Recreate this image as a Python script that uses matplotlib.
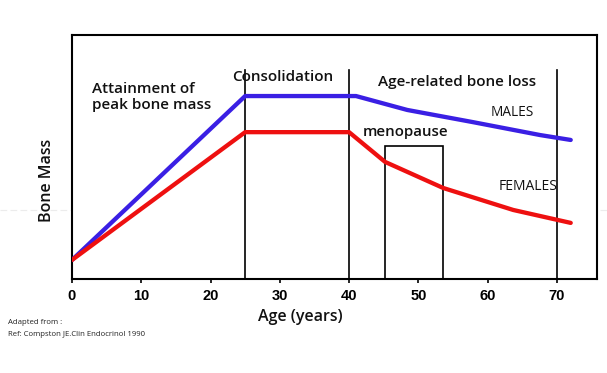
import matplotlib
matplotlib.use("Agg")
import matplotlib.pyplot as plt
from matplotlib.lines import Line2D
from matplotlib.patches import Rectangle

# age (years) / bone mass (arbitrary units, 0-100)
male_age = [0, 25, 41, 48.4, 57.9, 67.6, 72]
male_mass = [7.8, 75, 75, 69.3, 64.3, 59, 57]
female_age = [0, 25, 40, 45.2, 53.6, 63.7, 72]
female_mass = [7.8, 60.2, 60.2, 48, 37.3, 28.3, 23]

phase_lines = [25, 40, 70]
phase_top = 85.7
menopause = (45.2, 53.6, 54.5)   # start, end, height
xticks = [0, 10, 20, 30, 40, 50, 60, 70]

fig = plt.figure(figsize=(6.07, 3.73), dpi=100)
ax = fig.add_axes([0.1186, 0.252, 0.865, 0.654])

# faint scan line running across the picture
fig.add_artist(Line2D([0, 1], [0.437, 0.437], transform=fig.transFigure,
                      color="#ececec", lw=0.8, ls=(0, (6, 3)), zorder=0))

for x in phase_lines:
    ax.plot([x, x], [0, phase_top], color="black", lw=1.2)
ax.add_patch(Rectangle((menopause[0], 0), menopause[1] - menopause[0], menopause[2],
                       fill=False, ec="black", lw=1.2))

ax.plot(male_age, male_mass, color="#3a1fe4", lw=3.1, solid_capstyle="round", zorder=3)
ax.plot(female_age, female_mass, color="#ee1010", lw=3.1, solid_capstyle="round", zorder=4)

ax.set_xlim(0, 75.8)
ax.set_ylim(0, 100)
ax.set_xticks(xticks)
ax.set_xticklabels([str(t) for t in xticks], fontsize=10.5, fontweight="bold",
                   family="Liberation Sans")
ax.set_yticks([])
ax.tick_params(axis="x", direction="out", length=3, width=1.2, pad=4)
for s in ax.spines.values():
    s.set_linewidth(1.5)

lab = dict(family="Open Sans", fontweight="semibold", color="#111111")
ax.set_xlabel("Age (years)", fontsize=11.5, **lab)
ax.xaxis.set_label_coords(0.434, -0.125)
ax.set_ylabel("Bone Mass", fontsize=11.5, **lab)
ax.yaxis.set_label_coords(-0.032, 0.406)

ax.text(2.9, 74.6, "Attainment of\npeak bone mass", fontsize=11, va="center",
        ha="left", linespacing=1.2, **lab)
ax.text(30.4, 82.8, "Consolidation", fontsize=11, ha="center", va="center", **lab)
ax.text(55.6, 80.7, "Age-related bone loss", fontsize=11, ha="center", va="center", **lab)
ax.text(48.1, 60.2, "menopause", fontsize=10.8, ha="center", va="center", **lab)
ax.text(63.5, 68.4, "MALES", fontsize=9.8, ha="center", va="center",
        family="Open Sans", color="#111111")
ax.text(65.8, 38.1, "FEMALES", fontsize=10, ha="center", va="center",
        family="Open Sans", color="#111111")

fig.text(8 / 607, 1 - 322 / 373, "Adapted from :", fontsize=5.6, va="center",
         family="Open Sans", color="#222222")
fig.text(8 / 607, 1 - 335 / 373, "Ref: Compston JE.Clin Endocrinol 1990", fontsize=5.6,
         va="center", family="Open Sans", color="#222222")

fig.savefig("out.png", dpi=100)
